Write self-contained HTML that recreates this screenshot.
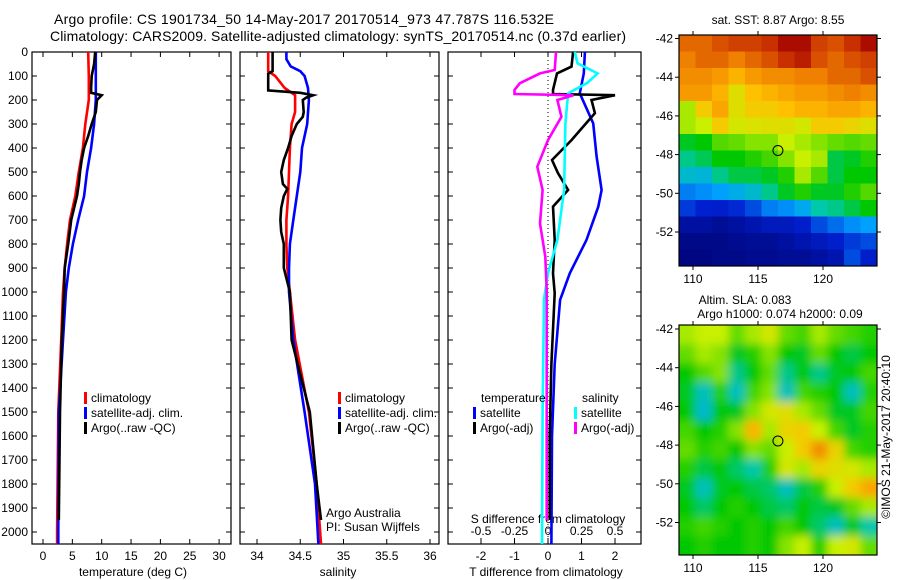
<!DOCTYPE html>
<html><head><meta charset="utf-8"><style>
body{margin:0;background:#fff}
svg{display:block;font-family:"Liberation Sans",sans-serif}
</style></head><body>
<svg id="fig" width="900" height="580" viewBox="0 0 900 580" xmlns="http://www.w3.org/2000/svg">
<rect width="900" height="580" fill="#fff"/>
<text x="54" y="24" font-size="14" textLength="500">Argo profile: CS 1901734_50 14-May-2017 20170514_973 47.787S 116.532E</text>
<text x="50" y="41" font-size="14" textLength="576">Climatology: CARS2009. Satellite-adjusted climatology: synTS_20170514.nc (0.37d earlier)</text>
<g id="g"></g>
</svg>
<script>
// ---- data ----
const depthTicks=[0,100,200,300,400,500,600,700,800,900,1000,1100,1200,1300,1400,1500,1600,1700,1800,1900,2000];
const tTicks=[0,5,10,15,20,25,30];
const sTicks=[34,34.5,35,35.5,36];
const dTTicks=[-2,-1,0,1,2];
const dSTicks=[-0.5,-0.25,0,0.25,0.5];
const dSTickLabels=['-0.5','-0.25','0','0.25','0.5'];
const latTicks=[-42,-44,-46,-48,-50,-52];
const lonTicks=[110,115,120];

const climDepth=[0,100,200,300,400,500,600,700,800,900,1000,1200,1500,2000,2050];
const tempClim=[7.7,7.8,7.8,7.2,6.8,6.1,5.5,4.6,4.1,3.7,3.4,3.1,2.6,2.4,2.4];
const tempSat=[9.0,9.0,9.0,8.7,8.2,7.5,7.0,6.0,5.1,4.4,3.9,3.4,2.7,2.6,2.6];
const argoDepth=[0,50,100,150,170,180,200,250,300,350,400,450,500,550,600,650,700,800,900,1000,1200,1500,1950];
const tempArgo=[8.9,8.7,8.3,8.2,8.2,10.0,9.2,9.0,8.3,7.7,7.0,6.6,6.3,6.1,5.8,5.3,4.8,4.3,3.7,3.6,3.2,2.9,2.7];

const salClimDepth=[0,80,100,150,180,250,300,400,500,600,700,800,900,1000,1200,1500,1800,2050];
const salClim=[34.13,34.13,34.21,34.32,34.44,34.44,34.40,34.38,34.37,34.36,34.34,34.34,34.35,34.38,34.44,34.60,34.69,34.74];
const salSatDepth=[0,30,60,80,100,150,200,300,400,500,600,700,800,900,1000,1200,1500,1800,2050];
const salSat=[34.34,34.34,34.39,34.50,34.55,34.59,34.60,34.58,34.52,34.50,34.46,34.42,34.38,34.37,34.37,34.42,34.55,34.67,34.71];
const salArgoDepth=[0,80,90,160,170,180,190,200,250,270,300,350,400,450,500,550,570,600,650,700,750,800,900,1000,1200,1500,1800,1950];
const salArgo=[34.18,34.18,34.13,34.13,34.50,34.65,34.57,34.53,34.54,34.53,34.46,34.40,34.36,34.31,34.28,34.30,34.35,34.31,34.28,34.27,34.28,34.31,34.31,34.38,34.40,34.61,34.69,34.74];

const dTSatDepth=[0,89,172,297,436,575,644,783,922,1033,1300,1600,2050];
const dTSat=[1.1,1.07,0.95,1.35,1.45,1.6,1.5,1.15,0.65,0.36,0.2,0.12,0.1];
const dTArgoDepth=[0,61,89,158,175,180,200,255,311,367,450,505,575,644,783,922,1005,1300,1600,1950];
const dTArgo=[0.75,0.7,0.27,0.15,0.15,2.0,1.3,1.4,1.05,0.7,0.12,0.3,0.6,0.15,0.2,0.15,0.2,0.1,0.05,0.05];
const dSSatDepth=[0,47,89,130,172,297,575,783,922,1030,1500,2050];
const dSSat=[0.2,0.22,0.37,0.29,0.15,0.13,0.12,0.07,0.0,-0.03,-0.04,-0.045];
const dSArgoDepth=[0,75,89,130,158,175,180,200,270,367,478,575,714,853,992,1500,1950];
const dSArgo=[0.06,0.05,-0.06,-0.21,-0.25,-0.25,0.19,0.07,0.1,0.0,-0.08,-0.04,-0.06,-0.02,-0.01,-0.01,-0.01];

const sstGrid=[
[0.85,0.85,0.88,0.9,0.9,0.92,0.98,0.98,0.9,0.88,0.92,0.98],
[0.82,0.85,0.85,0.82,0.85,0.88,0.92,0.95,0.88,0.85,0.88,0.9],
[0.8,0.8,0.78,0.74,0.78,0.8,0.8,0.82,0.82,0.85,0.85,0.88],
[0.78,0.78,0.74,0.66,0.72,0.74,0.76,0.78,0.78,0.8,0.82,0.8],
[0.6,0.7,0.76,0.66,0.7,0.7,0.72,0.74,0.74,0.76,0.76,0.74],
[0.6,0.62,0.7,0.64,0.65,0.66,0.66,0.64,0.7,0.7,0.68,0.66],
[0.48,0.5,0.55,0.56,0.58,0.58,0.62,0.6,0.58,0.56,0.55,0.56],
[0.42,0.45,0.5,0.5,0.52,0.54,0.58,0.62,0.6,0.46,0.48,0.52],
[0.36,0.35,0.42,0.46,0.46,0.48,0.52,0.6,0.55,0.46,0.5,0.5],
[0.26,0.28,0.3,0.33,0.36,0.42,0.48,0.52,0.48,0.48,0.52,0.55],
[0.18,0.15,0.14,0.16,0.2,0.26,0.28,0.32,0.4,0.42,0.46,0.5],
[0.08,0.08,0.06,0.08,0.1,0.12,0.12,0.14,0.2,0.24,0.28,0.3],
[0.04,0.04,0.04,0.05,0.06,0.06,0.08,0.1,0.12,0.14,0.18,0.2],
[0.03,0.03,0.04,0.04,0.05,0.05,0.06,0.06,0.08,0.1,0.2,0.14]];
const slaGrid=[
[.6,.62,.62,.56,.6,.64,.56,.54,.6,.56,.54,.52],
[.56,.6,.58,.48,.52,.58,.5,.48,.56,.5,.46,.5],
[.5,.55,.58,.42,.5,.56,.42,.5,.42,.48,.5,.54],
[.48,.38,.52,.38,.54,.58,.38,.54,.52,.5,.38,.52],
[.5,.36,.5,.48,.58,.64,.66,.6,.56,.48,.48,.54],
[.54,.5,.52,.58,.74,.6,.68,.7,.62,.54,.48,.52],
[.56,.52,.54,.5,.58,.56,.62,.7,.8,.68,.54,.52],
[.52,.46,.5,.44,.4,.52,.64,.6,.68,.66,.64,.6],
[.48,.38,.48,.5,.46,.44,.38,.46,.52,.62,.7,.76],
[.5,.44,.5,.52,.5,.46,.44,.5,.46,.48,.56,.6],
[.52,.54,.52,.5,.52,.5,.54,.5,.44,.38,.48,.4],
[.5,.52,.5,.5,.52,.5,.58,.62,.52,.62,.64,.56]];
const argoPos=[116.532,-47.787];

// ---- helpers ----
const NS='http://www.w3.org/2000/svg';
const G=document.getElementById('g');
function mk(tag,attrs,parent){const e=document.createElementNS(NS,tag);for(const k in attrs)e.setAttribute(k,attrs[k]);(parent||G).appendChild(e);return e;}
const yD=d=>52+0.24*d;
const PB=544;
const xT=v=>43+5.87*v;
const xS=v=>257+86.5*(v-34);
const xDT=v=>548+33.5*v;
const xDS=v=>548+134*v;

function panel(x0,x1,name){
  const r=mk('rect',{x:x0,y:52,width:x1-x0,height:PB-52,fill:'none',stroke:'#000','stroke-width':1.2});
  
  
  depthTicks.forEach(d=>{
    const y=yD(d);
    mk('line',{x1:x0,x2:x0+5,y1:y,y2:y,stroke:'#000'});
    mk('line',{x1:x1,x2:x1-5,y1:y,y2:y,stroke:'#000'});
  });
}
function xticks(vals,fx,labels,y,name){
  vals.forEach((v,i)=>{
    const x=fx(v);
    mk('line',{x1:x,x2:x,y1:52,y2:57,stroke:'#000'});
    mk('line',{x1:x,x2:x,y1:PB,y2:PB-5,stroke:'#000'});
    const t=mk('text',{x:x,y:y,'font-size':12,'text-anchor':'middle'});
    t.textContent=labels?labels[i]:String(v);
    
    
  });
}
function line(fx,vals,depths,color,name){
  const p=vals.map((v,i)=>fx(v).toFixed(1)+','+yD(depths[i]).toFixed(1)).join(' ');
  const e=mk('polyline',{points:p,fill:'none',stroke:color,'stroke-width':2.6,'stroke-linejoin':'miter'});
  
  
}
function txt(x,y,s,size,name,anchor){
  const t=mk('text',{x:x,y:y,'font-size':size,'text-anchor':anchor||'start'});
  t.textContent=s;
  
  
  return t;
}
function legend(x,y,color,s,name){
  const b=mk('rect',{x:x,y:y-10,width:3,height:12,fill:color});
  
  
  txt(x+7,y,s,12,name);
}

depthTicks.forEach(d=>{
  txt(28,yD(d)+4,String(d),12,'depth-tick-label','end');
});

panel(32,231,'temperature-panel');
xticks(tTicks,xT,null,560,'temperature-tick-label');
txt(133,576,'temperature (deg C)',12,'temperature-axis-title','middle');
line(xT,tempClim,climDepth,'#f00','temp-climatology-line');
line(xT,tempSat,climDepth,'#00f','temp-satellite-line');
line(xT,tempArgo,argoDepth,'#000','temp-argo-line');
legend(84,402,'#f00','climatology','legend-climatology');
legend(84,417,'#00f','satellite-adj. clim.','legend-satellite');
legend(84,432,'#000','Argo(..raw -QC)','legend-argo');

panel(240,439,'salinity-panel');
xticks(sTicks,xS,null,560,'salinity-tick-label');
txt(338,576,'salinity',12,'salinity-axis-title','middle');
line(xS,salClim,salClimDepth,'#f00','sal-climatology-line');
line(xS,salSat,salSatDepth,'#00f','sal-satellite-line');
line(xS,salArgo,salArgoDepth,'#000','sal-argo-line');
legend(338,402,'#f00','climatology','legend-climatology-sal');
legend(338,417,'#00f','satellite-adj. clim.','legend-satellite-sal');
legend(338,432,'#000','Argo(..raw -QC)','legend-argo-sal');
txt(326,517,'Argo Australia',12,'argo-australia-label');
txt(326,531,'PI: Susan Wijffels',12,'pi-label');

panel(448,641,'difference-panel');
xticks(dTTicks,xDT,null,560,'t-diff-tick-label');
dSTicks.forEach((v,i)=>{
  const x=xDS(v);
  mk('line',{x1:x,x2:x,y1:538,y2:544,stroke:'#000'});
  txt(x,535,dSTickLabels[i],12,'s-diff-tick-label','middle');
});
txt(548,523,'S difference from climatology',12,'s-diff-axis-title','middle');
txt(546,576,'T difference from climatology',12,'t-diff-axis-title','middle');
mk('line',{x1:xDT(0),x2:xDT(0),y1:52,y2:PB,stroke:'#000','stroke-dasharray':'1,3'});
line(xDT,dTSat,dTSatDepth,'#00f','t-diff-satellite-line');
line(xDT,dTArgo,dTArgoDepth,'#000','t-diff-argo-line');
line(xDS,dSSat,dSSatDepth,'#0ff','s-diff-satellite-line');
line(xDS,dSArgo,dSArgoDepth,'#f0f','s-diff-argo-line');
txt(481,402,'temperature',12,'legend-temperature-header');
legend(473,417,'#00f','satellite','legend-t-satellite');
legend(473,432,'#000','Argo(-adj)','legend-t-argo');
txt(582,402,'salinity',12,'legend-salinity-header');
legend(574,417,'#0ff','satellite','legend-s-satellite');
legend(574,432,'#f0f','Argo(-adj)','legend-s-argo');

// ---- maps ----
const stops=[[0,[0,0,110]],[0.15,[0,32,208]],[0.3,[0,160,255]],[0.4,[0,200,170]],[0.5,[0,200,0]],[0.62,[200,240,0]],[0.72,[255,192,0]],[0.82,[240,128,0]],[0.92,[200,48,0]],[1,[160,0,0]]];
function cmap(v){
  for(let i=1;i<stops.length;i++){
    if(v<=stops[i][0]){const a=stops[i-1],b=stops[i],t=(v-a[0])/(b[0]-a[0]);
      return 'rgb('+a[1].map((c,k)=>Math.round(c+(b[1][k]-c)*t)).join(',')+')';}
  }
  return 'rgb(160,0,0)';
}
const lonX=lon=>693+13*(lon-110);
function map(grid,top,bottom,lat42y,name,blur,id){
  const x0=679,x1=877;
  const latY=lat=>lat42y+19.35*(-42-lat);
  const cp=mk('clipPath',{id:'cp'+id});
  mk('rect',{x:x0,y:top,width:x1-x0,height:bottom-top},cp);
  const gg=mk('g',{'clip-path':'url(#cp'+id+')'});
  
  
  const inner=mk('g',blur?{filter:'url(#bl)'}:{},gg);
  const rows=grid.length,cols=grid[0].length;
  const cw=(x1-x0)/cols,ch=(bottom-top)/rows;
  grid.forEach((row,r)=>row.forEach((v,c)=>{
    const e=mk('rect',{x:x0+c*cw-(blur&&c==0?12:0),y:top+r*ch-(blur&&r==0?12:0),width:cw+(blur&&(c==0||c==cols-1)?12:0.6),height:ch+(blur&&(r==0||r==rows-1)?12:0.6),fill:cmap(v)},inner);
    
    
  }));
  const fr=mk('rect',{x:x0,y:top,width:x1-x0,height:bottom-top,fill:'none',stroke:'#000','stroke-width':1.2});
  
  
  latTicks.forEach(l=>{const y=latY(l);
    mk('line',{x1:x0-4,x2:x0,y1:y,y2:y,stroke:'#000'});
    mk('line',{x1:x1,x2:x1+4,y1:y,y2:y,stroke:'#000'});
    txt(673,y+4,String(l),12,name+'-lat-label','end');});
  lonTicks.forEach(l=>{const x=lonX(l);
    mk('line',{x1:x,x2:x,y1:top-4,y2:top,stroke:'#000'});
    mk('line',{x1:x,x2:x,y1:bottom,y2:bottom+4,stroke:'#000'});
    txt(x,bottom+17,String(l),12,name+'-lon-label','middle');});
  const c=mk('circle',{cx:lonX(argoPos[0]),cy:latY(argoPos[1]),r:5,fill:'none',stroke:'#000','stroke-width':1});
  
  
}
const defs=mk('defs',{});
const f=mk('filter',{id:'bl',x:'-10%',y:'-10%',width:'120%',height:'120%'},defs);
mk('feGaussianBlur',{stdDeviation:4.5},f);
txt(778,24,'sat. SST: 8.87 Argo: 8.55',12,'sst-map-title','middle');
map(sstGrid,35,266,38.5,'sst-map',false,1);
txt(745,304,'Altim. SLA: 0.083',12,'sla-map-title','middle');
txt(780,318,'Argo h1000: 0.074 h2000: 0.09',12,'sla-map-subtitle','middle');
map(slaGrid,325,555,329,'sla-map',true,2);
const cr=txt(0,0,'©IMOS 21-May-2017 20:40:10',12,'copyright-label','middle');
cr.setAttribute('transform','translate(890,437) rotate(-90)');
</script>
</body></html>
